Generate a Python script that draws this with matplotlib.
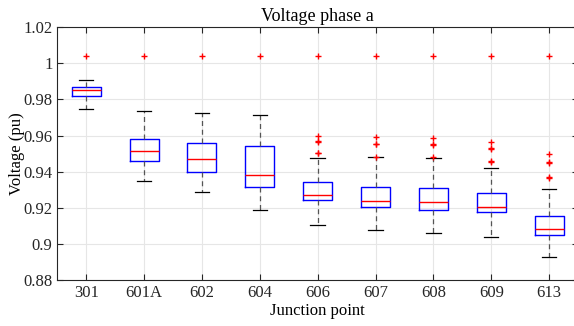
import matplotlib
matplotlib.use("Agg")
import matplotlib.pyplot as plt

categories = ["301", "601A", "602", "604", "606", "607", "608", "609", "613"]
whisker_low = [0.9746, 0.9348, 0.9287, 0.9187, 0.9108, 0.9077, 0.9064, 0.9040, 0.8930]
q1 = [0.9818, 0.9459, 0.9398, 0.9315, 0.9243, 0.9204, 0.9191, 0.9177, 0.9053]
median = [0.9851, 0.9514, 0.9470, 0.9381, 0.9270, 0.9237, 0.9232, 0.9206, 0.9085]
q3 = [0.9868, 0.9580, 0.9558, 0.9542, 0.9345, 0.9318, 0.9308, 0.9285, 0.9158]
whisker_high = [0.9907, 0.9735, 0.9724, 0.9713, 0.9477, 0.9480, 0.9477, 0.9422, 0.9306]
outliers = [
    [1.0038],
    [1.0038],
    [1.0038],
    [1.0038],
    [1.0038, 0.9600, 0.9570, 0.9566, 0.9505, 0.9502],
    [1.0038, 0.9590, 0.9556, 0.9552, 0.9484],
    [1.0038, 0.9584, 0.9552, 0.9548, 0.9480],
    [1.0038, 0.9564, 0.9530, 0.9526, 0.9460, 0.9456],
    [1.0038, 0.9496, 0.9454, 0.9450, 0.9372, 0.9368],
]

plt.rcParams['font.family'] = ['Liberation Serif', 'DejaVu Serif']

fig = plt.figure(figsize=(5.74, 3.26), dpi=100)
ax = fig.add_axes([57.3/574, 1-280.3/326, (578-57.3)/574, (280.3-27)/326])

stats = []
for i, c in enumerate(categories):
    stats.append(dict(label=c, whislo=whisker_low[i], q1=q1[i], med=median[i],
                      q3=q3[i], whishi=whisker_high[i], fliers=outliers[i]))

ax.bxp(stats, positions=range(1, len(categories)+1), widths=0.5,
       boxprops=dict(color='#0000ff', linewidth=1.0),
       medianprops=dict(color='#ff0000', linewidth=1.0),
       whiskerprops=dict(color='#555555', linestyle=(0, (4, 3)), linewidth=0.9),
       capprops=dict(color='black', linewidth=0.9),
       flierprops=dict(marker='+', markeredgecolor='#ff0000', markersize=4, markeredgewidth=1.0),
       capwidths=0.25)

ax.set_xlim(0.5, 9.5)
ax.set_ylim(0.88, 1.02)
ax.set_yticks([0.88, 0.9, 0.92, 0.94, 0.96, 0.98, 1.0, 1.02])
ax.set_yticklabels(["0.88", "0.9", "0.92", "0.94", "0.96", "0.98", "1", "1.02"])
ax.set_xticks(range(1, len(categories)+1))
ax.set_xticklabels(categories)
ax.grid(True, color='#e6e6e6', linewidth=0.8)
ax.set_axisbelow(True)
ax.tick_params(direction='in', top=True, right=True, labelsize=12, length=4, colors='#262626')
for s in ax.spines.values():
    s.set_color('#262626')
    s.set_linewidth(0.8)
ax.set_title("Voltage phase a", fontsize=13, pad=4)
ax.set_xlabel("Junction point", fontsize=12, labelpad=1)
ax.set_ylabel("Voltage (pu)", fontsize=12, labelpad=-1)

fig.savefig("out.png", dpi=100)
